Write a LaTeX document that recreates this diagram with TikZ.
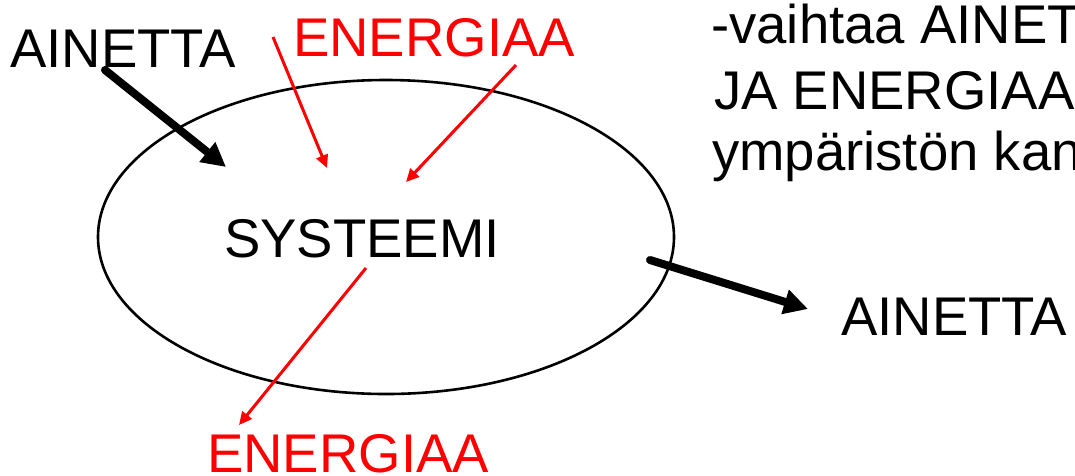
\documentclass[tikz,border=0pt]{standalone}
\usepackage{fontspec}
\setmainfont{Liberation Sans}
\usetikzlibrary{arrows.meta,shapes.geometric}
\tikzset{
  lbl/.style={anchor=base west, inner sep=0pt, font=\fontsize{54.5}{62}\selectfont},
  redlbl/.style={lbl, text=red},
  matter/.style={line width=8pt, line cap=round, -{Triangle[length=24pt,width=24pt]}},
  energy/.style={draw=red, line width=3pt, -{Triangle[length=13pt,width=12pt]}},
  boundary/.style={draw, line width=2.6pt, ellipse, minimum width=576pt, minimum height=314pt, inner sep=0pt}
}
\begin{document}
\begin{tikzpicture}[x=1pt,y=-1pt]
  \useasboundingbox (0,0) rectangle (1075,475);
  \clip (0,0) rectangle (1075,475);

  % system boundary
  \node[boundary] (sys) at (386,237) {};
  \node[lbl] (systeemi) at (224,257) {SYSTEEMI};

  % labels around the system
  \node[lbl] (ainIn) at (10,67) {AINETTA};
  \node[redlbl] (enIn) at (293,56) {ENERGIAA};
  \node[lbl] (ainOut) at (841,335) {AINETTA};
  \node[redlbl] (enOut) at (207,472) {ENERGIAA};

  % description text
  \node[lbl] (d1) at (711,43) {-vaihtaa AINET};
  \node[lbl] (d2) at (714,109) {JA ENERGIAA};
  \node[lbl] (d3) at (712,170) {ympäristön kan};

  % arrow end points
  \coordinate (m1s) at (105,70);  \coordinate (m1e) at (226,167);
  \coordinate (m2s) at (650,260); \coordinate (m2e) at (808,309);
  \coordinate (e1s) at (273,37);  \coordinate (e1e) at (327,168);
  \coordinate (e2s) at (516,65);  \coordinate (e2e) at (406,182);
  \coordinate (e3s) at (366,268); \coordinate (e3e) at (239,425);

  % matter flows
  \draw[matter] (m1s) -- (m1e);
  \draw[matter] (m2s) -- (m2e);

  % energy flows
  \draw[energy] (e1s) -- (e1e);
  \draw[energy] (e2s) -- (e2e);
  \draw[energy] (e3s) -- (e3e);
\end{tikzpicture}
\end{document}
